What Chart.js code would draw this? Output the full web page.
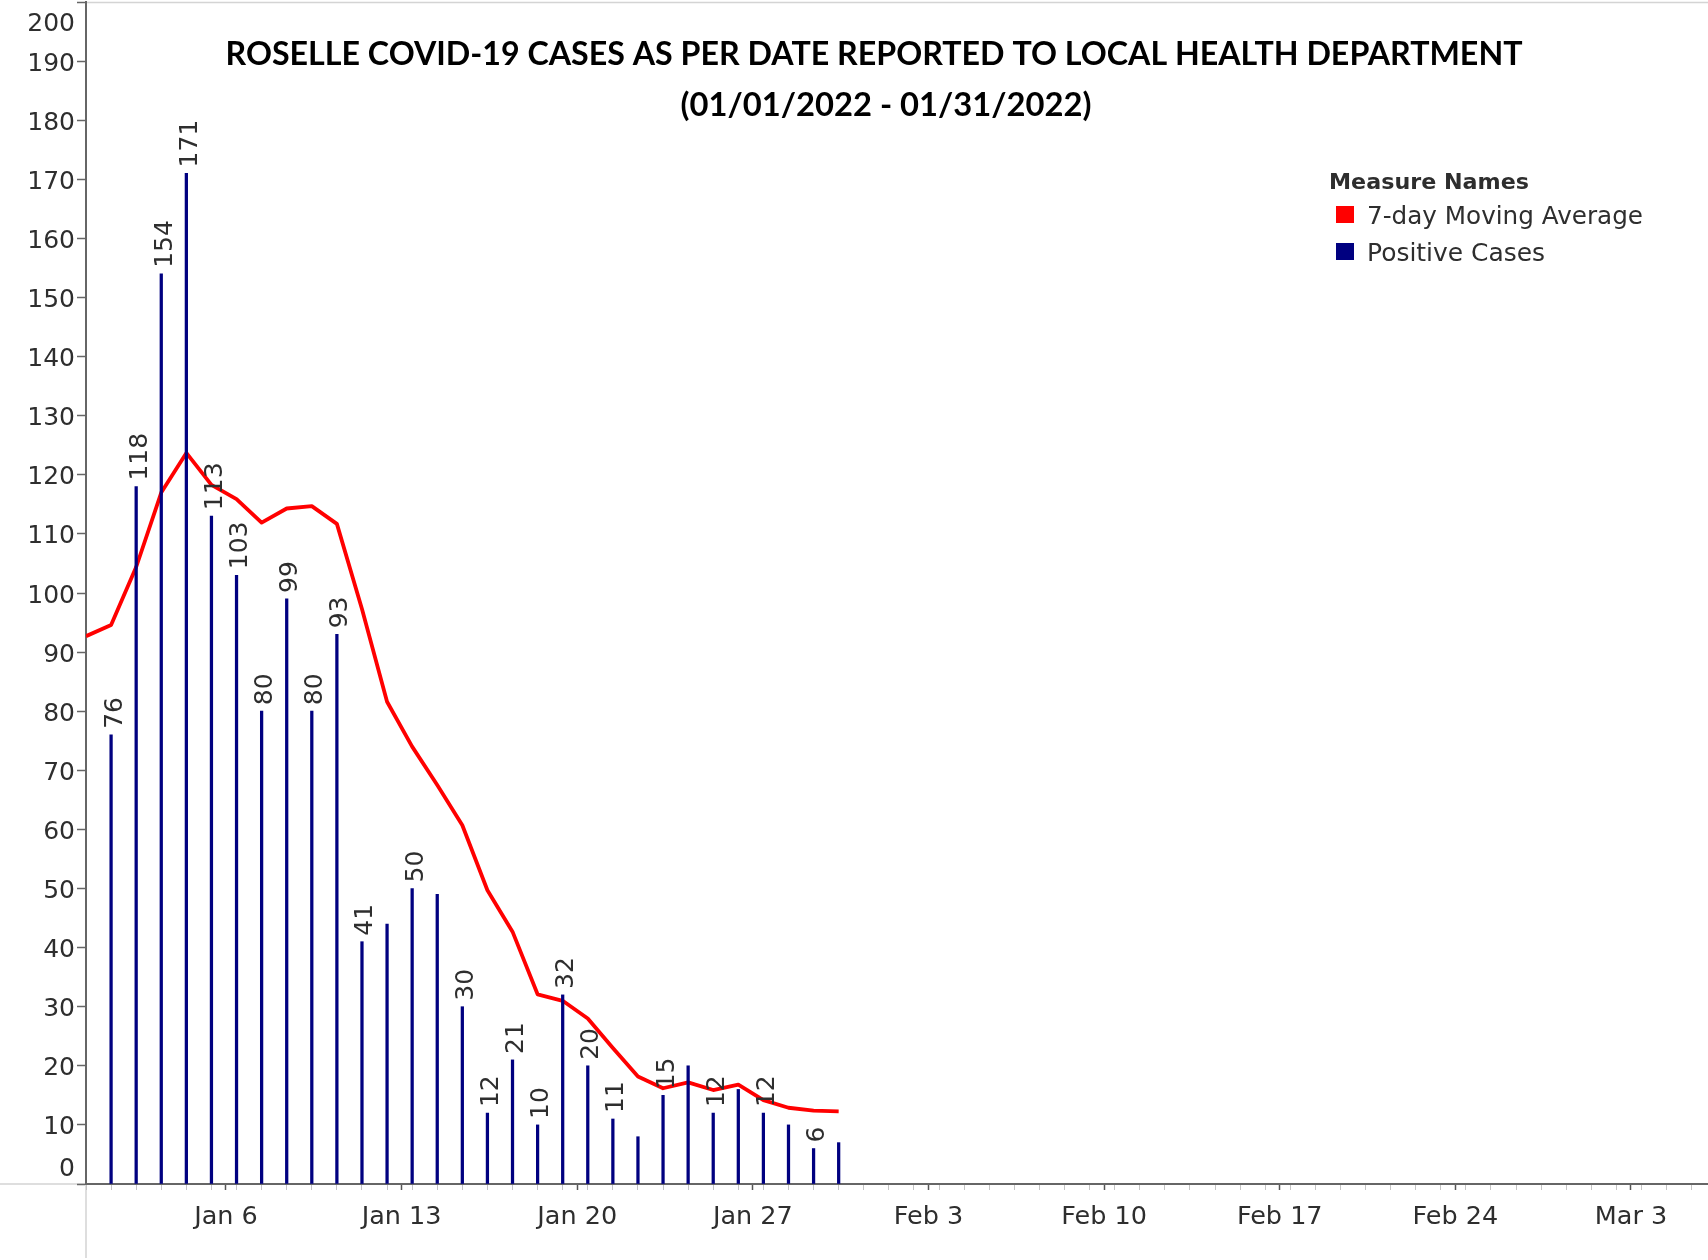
<!DOCTYPE html>
<html>
<head>
<meta charset="utf-8">
<script src="https://cdn.jsdelivr.net/npm/chart.js@4.4.1/dist/chart.umd.min.js"></script>
<style>
  html, body { margin: 0; padding: 0; background: #ffffff; }
  canvas { display: block; }
</style>
</head>
<body>
<canvas id="chart" width="1708" height="1260"></canvas>
<script>
// ---------------- DATA ----------------
const dates = ['Jan 1','Jan 2','Jan 3','Jan 4','Jan 5','Jan 6','Jan 7','Jan 8','Jan 9','Jan 10',
  'Jan 11','Jan 12','Jan 13','Jan 14','Jan 15','Jan 16','Jan 17','Jan 18','Jan 19','Jan 20',
  'Jan 21','Jan 22','Jan 23','Jan 24','Jan 25','Jan 26','Jan 27','Jan 28','Jan 29','Jan 30','Jan 31'];
const positiveCases = [null, 76, 118, 154, 171, 113, 103, 80, 99, 80,
  93, 41, 44, 50, 49, 30, 12, 21, 10, 32,
  20, 11, 8, 15, 20, 12, 16, 12, 10, 6, 7];
const movingAverage = [92.7, 94.6, 104.4, 117.0, 123.7, 118.3, 115.9, 111.9, 114.3, 114.7,
  111.7, 97.3, 81.6, 74.0, 67.5, 60.7, 49.7, 42.7, 32.1, 31.0,
  28.0, 23.0, 18.2, 16.2, 17.2, 15.9, 16.8, 14.2, 12.9, 12.4, 12.3];
// bars whose value label is shown in the reference
const labeledDates = ['Jan 2','Jan 3','Jan 4','Jan 5','Jan 6','Jan 7','Jan 8','Jan 9','Jan 10','Jan 11','Jan 12',
  'Jan 14','Jan 16','Jan 17','Jan 18','Jan 19','Jan 20','Jan 21','Jan 22','Jan 24','Jan 26','Jan 28','Jan 30'];
// x-axis tick labels and their day offsets after Jan 1
const tickLabels = ['Jan 6','Jan 13','Jan 20','Jan 27','Feb 3','Feb 10','Feb 17','Feb 24','Mar 3'];
const tickDays = [5, 12, 19, 26, 33, 40, 47, 54, 61];
const seriesNames = ['7-day Moving Average', 'Positive Cases'];
const titleLines = ['ROSELLE COVID-19 CASES AS PER DATE REPORTED TO LOCAL HEALTH DEPARTMENT',
  '(01/01/2022 - 01/31/2022)'];
const legendTitle = 'Measure Names';

// ---------------- STYLE ----------------
const RED = '#ff0000';
const NAVY = '#000080';
const TEXT = '#2e2e2e';
const AXIS_FONT = 'DejaVu Sans';
const TICK_SHIFT = 0.58;     // week ticks sit a little after the day marks (as in the reference)
const X_MAX = 64.65;

const barData = positiveCases.map((v, i) => ({ x: i, y: v }));
const lineData = movingAverage.map((v, i) => ({ x: i, y: v }));

function fitText(ctx, text, x, baseline, width, font, align) {
  ctx.save();
  ctx.font = font;
  const w = ctx.measureText(text).width;
  ctx.translate(x, baseline);
  ctx.scale(width / w, 1);
  ctx.textAlign = align;
  ctx.textBaseline = 'alphabetic';
  ctx.fillText(text, 0, 0);
  ctx.restore();
}

const overlay = {
  id: 'overlay',
  beforeDraw(chart) {
    const ctx = chart.ctx, a = chart.chartArea;
    ctx.save();
    ctx.strokeStyle = '#d4d4d4';
    ctx.lineWidth = 1.5;
    ctx.beginPath();
    ctx.moveTo(a.left, a.top + 0.5); ctx.lineTo(a.right, a.top + 0.5);   // top pane border
    ctx.moveTo(0, a.bottom); ctx.lineTo(a.left, a.bottom);               // baseline extension
    ctx.moveTo(a.left, a.bottom); ctx.lineTo(a.left, chart.height - 2);  // divider below axis
    ctx.stroke();
    ctx.restore();
  },
  afterDatasetsDraw(chart) {
    const ctx = chart.ctx;
    const meta = chart.getDatasetMeta(0);
    ctx.save();
    ctx.font = '25px "' + AXIS_FONT + '"';
    ctx.fillStyle = TEXT;
    ctx.textAlign = 'left';
    ctx.textBaseline = 'middle';
    meta.data.forEach((el, i) => {
      const v = positiveCases[i];
      if (v === null || !labeledDates.includes(dates[i])) return;
      ctx.save();
      ctx.translate(el.x + 4, el.y - 6);
      ctx.rotate(-Math.PI / 2);
      ctx.fillText(String(v), 0, 0);
      ctx.restore();
    });
    ctx.restore();
  },
  afterDraw(chart) {
    const ctx = chart.ctx, a = chart.chartArea;
    const ys = chart.scales.y;
    // y tick labels (kept inside the canvas like the reference)
    ctx.save();
    ctx.font = '25px "' + AXIS_FONT + '"';
    ctx.fillStyle = TEXT;
    ctx.textAlign = 'right';
    ctx.textBaseline = 'middle';
    ys.ticks.forEach(t => {
      let py = ys.getPixelForValue(t.value) + 3;
      py = Math.min(Math.max(py, a.top + 22), a.bottom - 15);
      ctx.fillText(String(t.value), a.left - 11, py);
    });
    ctx.restore();
    // title
    ctx.save();
    ctx.fillStyle = '#000000';
    fitText(ctx, titleLines[0], 874, 65, 1297, 'bold 33px Lato', 'center');
    fitText(ctx, titleLines[1], 886, 116, 411, 'bold 33px Lato', 'center');
    ctx.restore();
    // legend
    ctx.save();
    ctx.fillStyle = TEXT;
    fitText(ctx, legendTitle, 1329, 189, 200, 'bold 22px "' + AXIS_FONT + '"', 'left');
    const items = [
      { name: seriesNames[0], color: RED, top: 206, base: 224, w: 276 },
      { name: seriesNames[1], color: NAVY, top: 243, base: 261, w: 178 }
    ];
    items.forEach(it => {
      ctx.fillStyle = it.color;
      ctx.fillRect(1336, it.top, 18, 17);
      ctx.fillStyle = TEXT;
      fitText(ctx, it.name, 1367, it.base, it.w, '24px "' + AXIS_FONT + '"', 'left');
    });
    ctx.restore();
  }
};

new Chart(document.getElementById('chart'), {
  type: 'bar',
  data: {
    datasets: [
      {
        type: 'bar',
        label: seriesNames[1],
        data: barData,
        backgroundColor: NAVY,
        borderWidth: 0,
        barThickness: 2.6,
        order: 1
      },
      {
        type: 'line',
        label: seriesNames[0],
        data: lineData,
        borderColor: RED,
        backgroundColor: RED,
        borderWidth: 3.8,
        pointRadius: 0,
        tension: 0,
        fill: false,
        borderJoinStyle: 'round',
        order: 2
      }
    ]
  },
  options: {
    responsive: false,
    animation: false,
    devicePixelRatio: 1,
    layout: { padding: { top: 2, right: 0, left: 0, bottom: 0 } },
    plugins: {
      legend: { display: false },
      title: { display: false },
      tooltip: { enabled: false }
    },
    scales: {
      x: {
        type: 'linear',
        min: 0,
        max: X_MAX,
        offset: false,
        afterBuildTicks(scale) {
          const t = [];
          for (let d = 0; d <= Math.floor(X_MAX); d++) t.push({ value: d });
          tickDays.forEach((d, k) => t.push({ value: d + TICK_SHIFT, wk: tickLabels[k] }));
          t.sort((p, q) => p.value - q.value);
          scale.ticks = t;
        },
        ticks: {
          autoSkip: false,
          maxRotation: 0,
          minRotation: 0,
          padding: 12,
          color: TEXT,
          font: { family: AXIS_FONT, size: 25.5 },
          callback(value, index, ticks) { return ticks[index].wk || ''; }
        },
        grid: {
          offset: false,
          drawOnChartArea: false,
          drawTicks: true,
          tickLength: 6,
          tickColor: c => (c.tick && c.tick.wk) ? '#555555' : '#c4c4c4',
          tickWidth: c => (c.tick && c.tick.wk) ? 1.5 : 1
        },
        border: { color: '#666666', width: 2 },
        afterFit(scale) { scale.height = 76; }
      },
      y: {
        min: 0,
        max: 200,
        ticks: { stepSize: 10, display: false },
        grid: { drawOnChartArea: false, drawTicks: true, tickLength: 9, tickColor: '#666666', tickWidth: 1.5 },
        border: { color: '#666666', width: 2 },
        afterFit(scale) { scale.width = 86; }
      }
    }
  },
  plugins: [overlay]
});
</script>
</body>
</html>
